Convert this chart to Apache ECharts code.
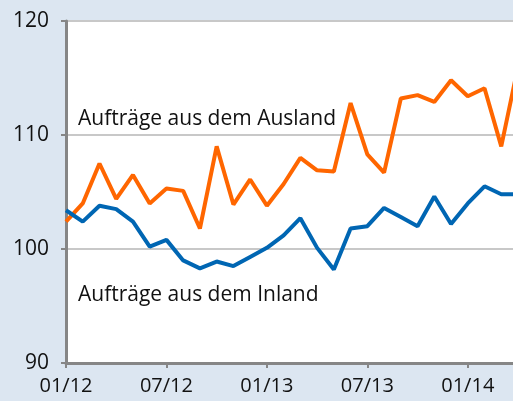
<!DOCTYPE html>
<html>
<head>
<meta charset="utf-8">
<script src="https://cdn.jsdelivr.net/npm/echarts@6/dist/echarts.min.js"></script>
<style>
  html, body { margin: 0; padding: 0; background: #dce6f1; overflow: hidden; }
  /* Diagramm ist rechts abgeschnitten: etwas breiter als das Fenster */
  #chart { width: 518px; height: 401px; }
</style>
</head>
<body>
<div id="chart"></div>
<script>
// Monate 01/12 bis 04/14
const months = [
  '01/12', '02/12', '03/12', '04/12', '05/12', '06/12', '07/12', '08/12', '09/12', '10/12', '11/12', '12/12',
  '01/13', '02/13', '03/13', '04/13', '05/13', '06/13', '07/13', '08/13', '09/13', '10/13', '11/13', '12/13',
  '01/14', '02/14', '03/14', '04/14'
]
// Aufträge aus dem Ausland
const ausland = [
  102.4, 104.0, 107.5, 104.4, 106.5, 104.0, 105.3, 105.1, 101.8, 109.0, 103.9, 106.1,
  103.8, 105.7, 108.0, 106.9, 106.8, 112.8, 108.3, 106.7, 113.2, 113.5, 112.9, 114.8,
  113.4, 114.1, 109.0, 116.0
]
// Aufträge aus dem Inland
const inland = [
  103.4, 102.4, 103.8, 103.5, 102.4, 100.2, 100.8, 99.0, 98.3, 98.9, 98.5, 99.3,
  100.1, 101.2, 102.7, 100.1, 98.2, 101.8, 102.0, 103.6, 102.8, 102.0, 104.6, 102.2,
  104.0, 105.5, 104.8, 104.8
]
const yTicks = [90, 100, 110, 120]

const font = '"Open Sans", "Noto Sans", sans-serif'
const chart = echarts.init(document.getElementById('chart'))

chart.setOption({
  backgroundColor: '#dce6f1',
  animation: false,
  grid: { left: 66, top: 21, bottom: 38, right: 0, show: true, backgroundColor: '#fff', borderWidth: 0 },
  xAxis: {
    type: 'category',
    data: months,
    boundaryGap: false,
    axisLine: { lineStyle: { color: '#868686', width: 3 } },
    axisTick: { interval: i => i % 6 === 0, length: 5, lineStyle: { color: '#868686', width: 2 } },
    axisLabel: { interval: i => i % 6 === 0, color: '#111', fontSize: 20, fontFamily: font, margin: 13 },
    splitLine: { show: false }
  },
  yAxis: {
    type: 'value',
    min: yTicks[0],
    max: yTicks[yTicks.length - 1],
    interval: 10,
    axisLine: { show: true, lineStyle: { color: '#868686', width: 3 } },
    axisTick: { show: true, length: 5, lineStyle: { color: '#868686', width: 2 } },
    axisLabel: { color: '#111', fontSize: 21, fontFamily: font, margin: 17 },
    splitLine: { show: true, lineStyle: { color: '#c8c8c8', width: 2 } }
  },
  graphic: [
    { type: 'text', left: 78, top: 109, style: { text: 'Aufträge aus dem Ausland', fill: '#111', font: '21px ' + font } },
    { type: 'text', left: 78, top: 285, style: { text: 'Aufträge aus dem Inland', fill: '#111', font: '21px ' + font } }
  ],
  series: [
    {
      name: 'Aufträge aus dem Ausland',
      type: 'line',
      data: ausland,
      symbol: 'none',
      lineStyle: { color: '#ff6600', width: 4 },
      z: 3
    },
    {
      name: 'Aufträge aus dem Inland',
      type: 'line',
      data: inland,
      symbol: 'none',
      lineStyle: { color: '#0066b3', width: 4 },
      z: 3
    }
  ]
})
</script>
</body>
</html>
